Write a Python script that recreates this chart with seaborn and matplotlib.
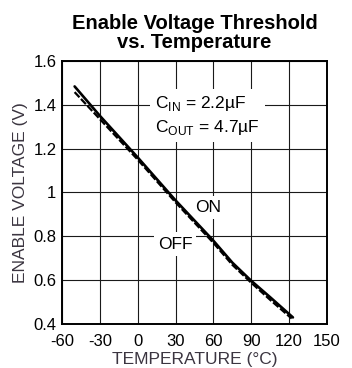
import matplotlib
matplotlib.use("Agg")
import matplotlib.pyplot as plt
import numpy as np
import pandas as pd
import seaborn as sns

# Enable threshold vs. temperature (turn-on and turn-off)
temp_on = [-50, -30, 0, 30, 60, 75, 90, 105, 123]
volt_on = [1.484, 1.35, 1.16, 0.964, 0.78, 0.68, 0.597, 0.522, 0.43]
temp_off = [-50, -30, 0, 30, 60, 75, 90, 105, 122]
volt_off = [1.458, 1.335, 1.15, 0.955, 0.77, 0.67, 0.588, 0.51, 0.425]

x_ticks = [-60, -30, 0, 30, 60, 90, 120, 150]
y_ticks = [0.4, 0.6, 0.8, 1.0, 1.2, 1.4, 1.6]
y_tick_labels = ["0.4", "0.6", "0.8", "1", "1.2", "1.4", "1.6"]

sns.set_theme(style="white")
plt.rcParams["font.family"] = ["Liberation Sans", "DejaVu Sans"]
plt.rcParams["mathtext.fontset"] = "custom"
plt.rcParams["mathtext.rm"] = "Liberation Sans"
plt.rcParams["axes.unicode_minus"] = False
plt.rcParams["text.color"] = "black"

df_on = pd.DataFrame({"temp": temp_on, "volt": volt_on})
df_off = pd.DataFrame({"temp": temp_off, "volt": volt_off})

fig = plt.figure(figsize=(3.52, 3.68), dpi=100)
ax = fig.add_axes([62 / 352, 44 / 368, 265 / 352, 263 / 368])

ax.set_xlim(-60, 150)
ax.set_ylim(0.4, 1.6)
ax.set_xticks(x_ticks)
ax.set_yticks(y_ticks)
ax.set_yticklabels(y_tick_labels)
ax.grid(True, color="#1a1a1a", linewidth=0.8)
ax.set_axisbelow(True)
for sp in ax.spines.values():
    sp.set_color("black")
    sp.set_linewidth(1.4)
ax.tick_params(axis="both", length=0, labelsize=12, colors="black")
ax.tick_params(axis="x", pad=7.5)
ax.tick_params(axis="y", pad=4)

sns.lineplot(data=df_off, x="temp", y="volt", ax=ax, color="black",
             linewidth=1.6, linestyle=(0, (3.2, 1.0)), zorder=3)
sns.lineplot(data=df_on, x="temp", y="volt", ax=ax, color="black",
             linewidth=1.9, zorder=4)

label_color = "#3b3540"
ax.set_xlabel("TEMPERATURE (°C)", fontsize=12.5, color=label_color, labelpad=2)
ax.set_ylabel("ENABLE VOLTAGE (V)", fontsize=12.5, color=label_color, labelpad=4)
ax.set_title("Enable Voltage Threshold\nvs. Temperature", fontsize=14.5,
             fontweight="bold", color="black", linespacing=1.05, pad=9)

box = dict(facecolor="white", edgecolor="none", pad=3)
ax.text(14, 1.352, "C$_{\\mathregular{IN}}$ = 2.2µF\nC$_{\\mathregular{OUT}}$ = 4.7µF",
        fontsize=12.5, ha="left", va="center", linespacing=1.35,
        bbox=dict(facecolor="white", edgecolor="none", boxstyle="square,pad=0.3"),
        zorder=5)
ax.text(55.7, 0.932, "ON", fontsize=12.5, ha="center", va="center",
        bbox=box, zorder=2.5)
ax.text(29.5, 0.765, "OFF", fontsize=12.5, ha="center", va="center",
        bbox=box, zorder=2.5)

fig.savefig("out.png", dpi=100)
